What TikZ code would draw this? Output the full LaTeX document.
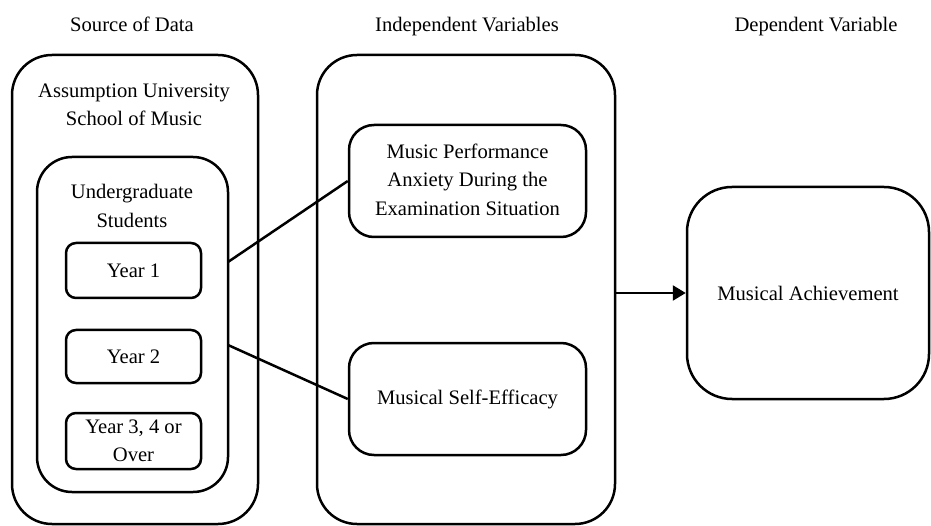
\documentclass[tikz,border=0pt]{standalone}
\usepackage{fontspec}
\setmainfont{Liberation Serif}
\usetikzlibrary{arrows.meta}
\begin{document}
\begin{tikzpicture}[x=1pt,y=-1pt,
  every node/.style={font=\fontsize{20.6}{28.5}\selectfont},
  box/.style={draw, line width=2.5pt, inner sep=0pt, align=center},
  lbl/.style={align=center, inner sep=0pt},
  conn/.style={line width=2.5pt}]
\useasboundingbox (0,0) rectangle (931,526);
% header labels
\node[lbl, anchor=base] (h1) at (132,32) {Source of Data};
\node[lbl, anchor=base] (h2) at (467,32) {Independent Variables};
\node[lbl, anchor=base] (h3) at (816,32) {Dependent Variable};
% source column
\node[box, rounded corners=40pt, minimum width=246pt, minimum height=469pt] (src) at (135,289.5) {};
\node[lbl] (srct) at (134,105) {Assumption University\\School of Music};
\node[box, rounded corners=35pt, minimum width=191pt, minimum height=335pt] (ug) at (132.5,324.5) {};
\node[lbl] (ugt) at (132,206) {Undergraduate\\Students};
\node[box, rounded corners=10pt, minimum width=135pt, minimum height=55pt] (y1) at (133.5,270.5) {Year 1};
\node[box, rounded corners=10pt, minimum width=135pt, minimum height=53pt] (y2) at (133.5,356.5) {Year 2};
\node[box, rounded corners=10pt, minimum width=135pt, minimum height=56pt] (y3) at (133.5,441) {Year 3, 4 or\\Over};
% independent variables column
\node[box, rounded corners=40pt, minimum width=298pt, minimum height=469pt] (mid) at (466,289.5) {};
\node[box, rounded corners=25pt, minimum width=237pt, minimum height=112pt] (mpa) at (467.5,181) {\raisebox{-3pt}{\begin{tabular}{@{}c@{}}Music Performance\\Anxiety During the\\Examination Situation\end{tabular}}};
\node[box, rounded corners=25pt, minimum width=237pt, minimum height=112pt] (mse) at (467.5,399) {\raisebox{-3pt}{Musical Self-Efficacy}};
% dependent variable
\node[box, rounded corners=45pt, minimum width=242pt, minimum height=212pt] (ach) at (808,293) {\raisebox{-3pt}{Musical Achievement}};
% connectors
\coordinate (a1) at (228,262);
\coordinate (a2) at (228,345);
\draw[conn] (a1) -- (mpa.west);
\draw[conn] (a2) -- (mse.west);
\draw[conn, -{Triangle[length=13pt,width=15pt]}] (mid.east |- ach.west) -- (ach.west);
\end{tikzpicture}
\end{document}
